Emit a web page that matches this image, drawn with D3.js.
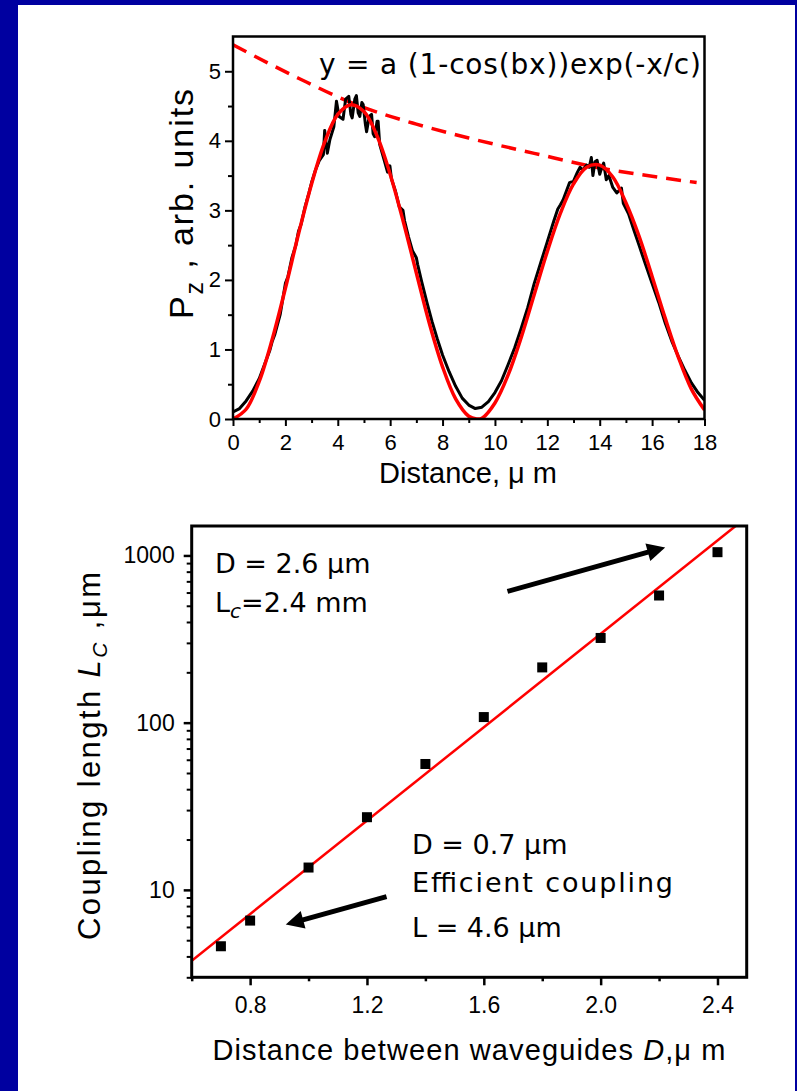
<!DOCTYPE html>
<html>
<head>
<meta charset="utf-8">
<script src="https://cdn.jsdelivr.net/npm/d3@7"></script>
<style>
  body { margin: 0; background: #ffffff; }
  svg text { font-family: "Liberation Sans", Arial, Helvetica, sans-serif; }
  .comic { font-family: "Comic Sans MS", "DejaVu Sans", sans-serif; }
</style>
</head>
<body>
<script>
// ---- top panel: power in the second waveguide vs distance ----
var measX = [0, 0.25, 0.5, 0.75, 1.0, 1.2, 1.4, 1.5, 1.6, 1.8, 2.0, 2.1, 2.25, 2.4, 2.5, 2.6, 2.75, 2.9, 3.0, 3.15,
  3.3, 3.45, 3.5, 3.6, 3.7, 3.85, 3.95, 4.05, 4.2, 4.3, 4.42, 4.5, 4.55, 4.65, 4.71, 4.78, 4.84, 4.92, 4.97, 5.05,
  5.1, 5.2, 5.29, 5.35, 5.41, 5.5, 5.54, 5.6, 5.75, 5.9, 5.99, 6.05, 6.2, 6.35, 6.49, 6.55, 6.7, 6.85, 7.0, 7.05,
  7.2, 7.4, 7.6, 7.8, 8.0, 8.25, 8.5, 8.75, 9.0, 9.25, 9.5, 9.75, 10.0, 10.25, 10.5, 10.75, 11.0, 11.25, 11.5, 11.75,
  12.0, 12.25, 12.4, 12.5, 12.6, 12.75, 12.85, 13.0, 13.15, 13.25, 13.35, 13.5, 13.6, 13.68, 13.74, 13.82, 13.9, 14.0, 14.08, 14.15,
  14.25, 14.35, 14.5, 14.65, 14.83, 14.9, 15.1, 15.3, 15.5, 15.75, 16.0, 16.25, 16.5, 16.75, 17.0, 17.25, 17.5, 17.75, 18.0];
var measP = [0.10, 0.15, 0.26, 0.40, 0.58, 0.78, 0.98, 1.12, 1.22, 1.50, 1.95, 2.05, 2.32, 2.50, 2.70, 2.80, 3.05, 3.25, 3.40, 3.58,
  3.72, 3.80, 4.15, 3.82, 4.02, 4.20, 4.57, 4.35, 4.31, 4.60, 4.64, 4.38, 4.33, 4.60, 4.65, 4.40, 4.35, 4.55, 4.52, 4.25,
  4.13, 4.35, 4.38, 4.10, 4.06, 4.28, 4.28, 3.95, 3.75, 3.55, 3.64, 3.45, 3.28, 3.05, 3.00, 2.85, 2.62, 2.42, 2.32, 2.22,
  1.98, 1.68, 1.40, 1.15, 0.92, 0.68, 0.47, 0.30, 0.20, 0.15, 0.17, 0.25, 0.38, 0.55, 0.78, 1.02, 1.30, 1.60, 1.95, 2.25,
  2.55, 2.85, 3.02, 3.08, 3.15, 3.30, 3.40, 3.42, 3.55, 3.62, 3.58, 3.65, 3.62, 3.76, 3.50, 3.70, 3.72, 3.52, 3.62, 3.68,
  3.44, 3.50, 3.33, 3.25, 3.32, 3.10, 2.95, 2.72, 2.50, 2.22, 1.95, 1.68, 1.38, 1.12, 0.90, 0.70, 0.52, 0.38, 0.27];

var fitX = [0, 0.5, 1, 1.5, 2, 2.5, 3, 3.5, 4, 4.5, 5, 5.5, 6, 6.5, 7, 7.5, 8, 8.5, 9, 9.3,
  9.5, 10, 10.5, 11, 11.5, 12, 12.5, 13, 13.5, 14, 14.5, 15, 15.5, 16, 16.5, 17, 17.5, 18];
var fitP = [0, 0.14, 0.54, 1.15, 1.88, 2.66, 3.38, 3.98, 4.38, 4.52, 4.42, 4.07, 3.52, 2.84, 2.10, 1.37, 0.75, 0.29, 0.04, 0,
  0.01, 0.23, 0.63, 1.17, 1.79, 2.41, 2.96, 3.38, 3.62, 3.65, 3.48, 3.11, 2.63, 2.05, 1.45, 0.89, 0.43, 0.13];

var envX = [0, 2.5, 4.7, 7, 9, 11.5, 14, 16, 17.7];
var envP = [5.38, 4.90, 4.52, 4.24, 4.04, 3.82, 3.61, 3.49, 3.40];

var topXTicks = [0, 2, 4, 6, 8, 10, 12, 14, 16, 18];
var topXMinor = [1, 3, 5, 7, 9, 11, 13, 15, 17];
var topYTicks = [0, 1, 2, 3, 4, 5];
var topYMinor = [0.5, 1.5, 2.5, 3.5, 4.5];

// ---- bottom panel: coupling length vs waveguide gap ----
var gapD = [0.7, 0.8, 1.0, 1.2, 1.4, 1.6, 1.8, 2.0, 2.2, 2.4];
var lenC = [4.6, 6.55, 13.6, 27.2, 56.6, 108, 214, 321, 576, 1046];
var lineD = [0.6, 2.462];
var lineL = [3.77, 1500];

var botXTicks = [0.8, 1.2, 1.6, 2.0, 2.4];
var botXMinor = [0.6, 1.0, 1.4, 1.8, 2.2];
var botYTicks = [10, 100, 1000];
var botYMinor = [3, 4, 5, 6, 7, 8, 9, 20, 30, 40, 50, 60, 70, 80, 90, 200, 300, 400, 500, 600, 700, 800, 900];

var width = 797, height = 1091;

var svg = d3.select('body')
  .append('svg')
  .attr('width', width)
  .attr('height', height);

// slide background
svg.append('rect').attr('width', width).attr('height', height).attr('fill', '#0000a0');
svg.append('rect').attr('x', 18).attr('y', 5).attr('width', 777).attr('height', 1086).attr('fill', '#ffffff');

var defs = svg.append('defs');

// ================= TOP PANEL =================
var pTop = { left: 233, right: 704.5, top: 36.5, bottom: 419 };

var xTop = d3.scaleLinear().domain([0, 18]).range([pTop.left, pTop.right]);
var yTop = d3.scaleLinear().domain([0, 5.5]).range([pTop.bottom, pTop.top]);

defs.append('clipPath').attr('id', 'clipTop')
  .append('rect')
  .attr('x', pTop.left).attr('y', pTop.top)
  .attr('width', pTop.right - pTop.left).attr('height', pTop.bottom - pTop.top);

// minor ticks
svg.append('g')
  .attr('transform', `translate(0,${pTop.bottom})`)
  .call(d3.axisBottom(xTop).tickValues(topXMinor).tickSize(4).tickFormat(''))
  .call(g => g.select('.domain').remove())
  .selectAll('line').attr('stroke-width', 2);
svg.append('g')
  .attr('transform', `translate(${pTop.left},0)`)
  .call(d3.axisLeft(yTop).tickValues(topYMinor).tickSize(5).tickFormat(''))
  .call(g => g.select('.domain').remove())
  .selectAll('line').attr('stroke-width', 2);

// major ticks + labels
var gxTop = svg.append('g')
  .attr('transform', `translate(0,${pTop.bottom})`)
  .call(d3.axisBottom(xTop).tickValues(topXTicks).tickSize(7).tickPadding(8).tickFormat(d3.format('d')));
gxTop.select('.domain').remove();
gxTop.selectAll('line').attr('stroke-width', 2);
gxTop.selectAll('text').style('font-size', '22px').attr('fill', '#000');

var gyTop = svg.append('g')
  .attr('transform', `translate(${pTop.left},0)`)
  .call(d3.axisLeft(yTop).tickValues(topYTicks).tickSize(8).tickPadding(4).tickFormat(d3.format('d')));
gyTop.select('.domain').remove();
gyTop.selectAll('line').attr('stroke-width', 2);
gyTop.selectAll('text').style('font-size', '22px').attr('fill', '#000');

// envelope (dashed)
svg.append('path')
  .datum(envX.map((d, i) => [d, envP[i]]))
  .attr('clip-path', 'url(#clipTop)')
  .attr('fill', 'none')
  .attr('stroke', '#ff0000')
  .attr('stroke-width', 3.5)
  .attr('stroke-dasharray', '15,9')
  .attr('d', d3.line().x(d => xTop(d[0])).y(d => yTop(d[1])).curve(d3.curveMonotoneX));

// measured curve
svg.append('path')
  .datum(measX.map((d, i) => [d, measP[i]]))
  .attr('clip-path', 'url(#clipTop)')
  .attr('fill', 'none')
  .attr('stroke', '#000')
  .attr('stroke-width', 3)
  .attr('stroke-linejoin', 'round')
  .attr('d', d3.line().x(d => xTop(d[0])).y(d => yTop(d[1])));

// fit curve
svg.append('path')
  .datum(fitX.map((d, i) => [d, fitP[i]]))
  .attr('clip-path', 'url(#clipTop)')
  .attr('fill', 'none')
  .attr('stroke', '#ff0000')
  .attr('stroke-width', 3.5)
  .attr('d', d3.line().x(d => xTop(d[0])).y(d => yTop(d[1])).curve(d3.curveCatmullRom));

// frame
svg.append('rect')
  .attr('x', pTop.left).attr('y', pTop.top)
  .attr('width', pTop.right - pTop.left).attr('height', pTop.bottom - pTop.top)
  .attr('fill', 'none').attr('stroke', '#000').attr('stroke-width', 2.5);

// formula
svg.append('text')
  .attr('class', 'comic')
  .attr('x', 319).attr('y', 74)
  .style('font-size', '28px')
  .attr('textLength', 382)
  .text('y = a (1-cos(bx))exp(-x/c)');

// axis titles
svg.append('text')
  .attr('x', 468).attr('y', 483)
  .attr('text-anchor', 'middle')
  .style('font-size', '29px')
  .text('Distance, \u03bc m');

var ytTop = svg.append('text')
  .attr('transform', 'translate(193,204) rotate(-90)')
  .attr('text-anchor', 'middle')
  .attr('textLength', 230)
  .style('font-size', '34px');
ytTop.append('tspan').text('P');
ytTop.append('tspan').attr('dy', 10).style('font-size', '25px').text('z');
ytTop.append('tspan').attr('dy', -10).text(' , arb. units');

// ================= BOTTOM PANEL =================
var pBot = { left: 191.7, right: 746.7, top: 526, bottom: 977.3 };

var xBot = d3.scaleLinear().domain([0.6, 2.5]).range([pBot.left, pBot.right]);
var yBot = d3.scaleLog().domain([3, 1500]).range([pBot.bottom, pBot.top]);

defs.append('clipPath').attr('id', 'clipBot')
  .append('rect')
  .attr('x', pBot.left).attr('y', pBot.top)
  .attr('width', pBot.right - pBot.left).attr('height', pBot.bottom - pBot.top);

svg.append('g')
  .attr('transform', `translate(0,${pBot.bottom})`)
  .call(d3.axisBottom(xBot).tickValues(botXMinor).tickSize(4).tickFormat(''))
  .call(g => g.select('.domain').remove())
  .selectAll('line').attr('stroke-width', 2.5);
svg.append('g')
  .attr('transform', `translate(${pBot.left},0)`)
  .call(d3.axisLeft(yBot).tickValues(botYMinor).tickSize(5).tickFormat(''))
  .call(g => g.select('.domain').remove())
  .selectAll('line').attr('stroke-width', 2);

var gxBot = svg.append('g')
  .attr('transform', `translate(0,${pBot.bottom})`)
  .call(d3.axisBottom(xBot).tickValues(botXTicks).tickSize(8).tickPadding(11).tickFormat(d3.format('.1f')));
gxBot.select('.domain').remove();
gxBot.selectAll('line').attr('stroke-width', 2.5);
gxBot.selectAll('text').style('font-size', '23px').attr('fill', '#000');

var gyBot = svg.append('g')
  .attr('transform', `translate(${pBot.left},0)`)
  .call(d3.axisLeft(yBot).tickValues(botYTicks).tickSize(8).tickPadding(9).tickFormat(d3.format('d')));
gyBot.select('.domain').remove();
gyBot.selectAll('line').attr('stroke-width', 2.5);
gyBot.selectAll('text').style('font-size', '23px').attr('fill', '#000');

// fit line
svg.append('path')
  .datum(lineD.map((d, i) => [d, lineL[i]]))
  .attr('clip-path', 'url(#clipBot)')
  .attr('fill', 'none')
  .attr('stroke', '#ff0000')
  .attr('stroke-width', 2.5)
  .attr('d', d3.line().x(d => xBot(d[0])).y(d => yBot(d[1])));

// data squares
svg.selectAll('.pt')
  .data(gapD)
  .enter()
  .append('rect')
  .attr('class', 'pt')
  .attr('x', d => xBot(d) - 5)
  .attr('y', (d, i) => yBot(lenC[i]) - 5)
  .attr('width', 10)
  .attr('height', 10)
  .attr('fill', '#000');

// frame
svg.append('rect')
  .attr('x', pBot.left).attr('y', pBot.top)
  .attr('width', pBot.right - pBot.left).attr('height', pBot.bottom - pBot.top)
  .attr('fill', 'none').attr('stroke', '#000').attr('stroke-width', 3);

// arrows
function arrow(x1, y1, x2, y2) {
  var px1 = xBot(x1), py1 = yBot(y1), px2 = xBot(x2), py2 = yBot(y2);
  var ang = Math.atan2(py2 - py1, px2 - px1);
  var hl = 18, hw = 9;
  var bx = px2 - hl * Math.cos(ang), by = py2 - hl * Math.sin(ang);
  svg.append('line')
    .attr('x1', px1).attr('y1', py1).attr('x2', bx + 2 * Math.cos(ang)).attr('y2', by + 2 * Math.sin(ang))
    .attr('stroke', '#000').attr('stroke-width', 5);
  svg.append('path')
    .attr('d', `M${px2},${py2}L${bx - hw * Math.sin(ang)},${by + hw * Math.cos(ang)}L${bx + hw * Math.sin(ang)},${by - hw * Math.cos(ang)}Z`)
    .attr('fill', '#000');
}
arrow(1.681, 609, 2.221, 1117);
arrow(1.267, 9.12, 0.922, 6.2);

// annotations
svg.append('text').attr('class', 'comic').attr('x', 215).attr('y', 573).style('font-size', '27px').text('D = 2.6 \u03bcm');
var lc = svg.append('text').attr('class', 'comic').attr('x', 215).attr('y', 612).style('font-size', '27px');
lc.append('tspan').text('L');
lc.append('tspan').attr('dy', 6).style('font-size', '20px').style('font-style', 'italic').text('c');
lc.append('tspan').attr('dy', -6).text('=2.4 mm');

svg.append('text').attr('class', 'comic').attr('x', 412).attr('y', 854).style('font-size', '27px').text('D = 0.7 \u03bcm');
svg.append('text').attr('class', 'comic').attr('x', 412).attr('y', 892).style('font-size', '27px').attr('textLength', 261).text('Efficient coupling');
svg.append('text').attr('class', 'comic').attr('x', 412).attr('y', 937).style('font-size', '27px').text('L = 4.6 \u03bcm');

// axis titles
var xtBot = svg.append('text')
  .attr('x', 469).attr('y', 1060)
  .attr('text-anchor', 'middle')
  .attr('textLength', 513)
  .style('font-size', '29px');
xtBot.append('tspan').text('Distance between waveguides ');
xtBot.append('tspan').style('font-style', 'italic').text('D');
xtBot.append('tspan').text(',\u03bc m');

var ytBot = svg.append('text')
  .attr('transform', 'translate(100,756) rotate(-90)')
  .attr('text-anchor', 'middle')
  .attr('textLength', 368)
  .style('font-size', '31px');
ytBot.append('tspan').text('Coupling length ');
ytBot.append('tspan').style('font-style', 'italic').text('L');
ytBot.append('tspan').attr('dy', 7).style('font-size', '21px').style('font-style', 'italic').text('C');
ytBot.append('tspan').attr('dy', -7).text(' ,\u03bcm');
</script>
</body>
</html>
